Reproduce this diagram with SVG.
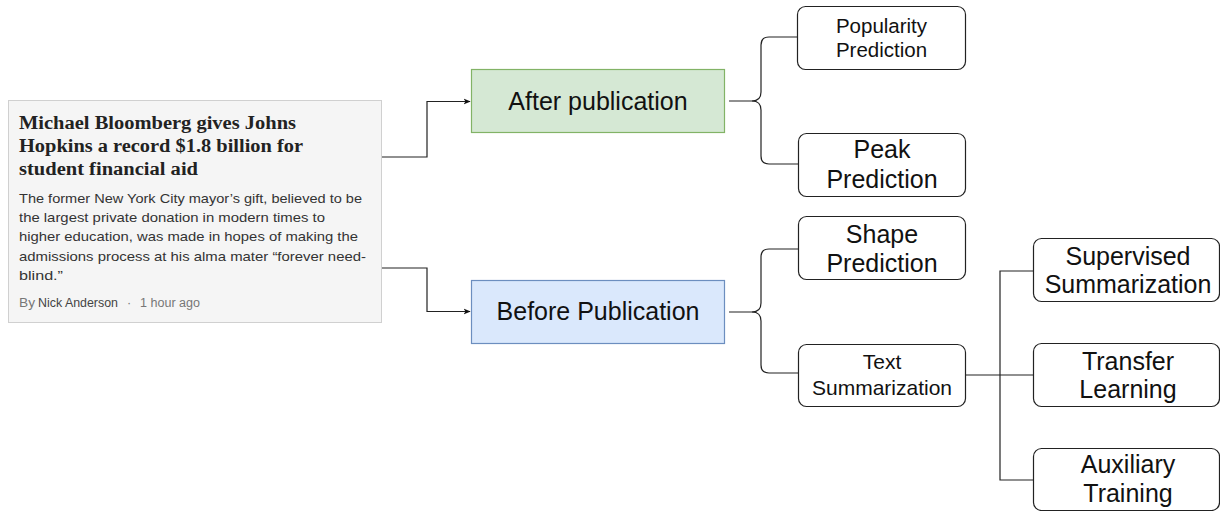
<svg xmlns="http://www.w3.org/2000/svg" width="1220" height="511" viewBox="0 0 1220 511">
<style>
.n{fill:#fff;stroke:#222;stroke-width:1.2}
.t{font-family:"Liberation Sans",Arial,sans-serif;fill:#111;text-anchor:middle}
.c{fill:none;stroke:#222;stroke-width:1.2}
.hl{font-family:"Liberation Serif","Times New Roman",serif;font-weight:bold;font-size:18px;fill:#222}
.bd{font-family:"Liberation Sans",Arial,sans-serif;font-size:13.5px;fill:#333}
.by{font-family:"Liberation Sans",Arial,sans-serif;font-size:12.5px;fill:#777}
</style>
<defs>
<marker id="ah" viewBox="0 0 10 10" refX="9" refY="5" markerWidth="7" markerHeight="7" orient="auto" markerUnits="userSpaceOnUse">
<path d="M0,1 L10,5 L0,9 L2.5,5 Z" fill="#111"/>
</marker>
</defs>
<rect width="1220" height="511" fill="#fff"/>

<g id="article">
<rect x="8.5" y="100.5" width="373" height="222" fill="#f5f5f5" stroke="#d0d0d0"/>
<text class="hl" x="19" y="129" textLength="277" lengthAdjust="spacingAndGlyphs">Michael Bloomberg gives Johns</text>
<text class="hl" x="19" y="152" textLength="284" lengthAdjust="spacingAndGlyphs">Hopkins a record $1.8 billion for</text>
<text class="hl" x="19" y="175" textLength="179" lengthAdjust="spacingAndGlyphs">student financial aid</text>
<text class="bd" x="19" y="203" textLength="343" lengthAdjust="spacingAndGlyphs">The former New York City mayor’s gift, believed to be</text>
<text class="bd" x="19" y="222" textLength="306" lengthAdjust="spacingAndGlyphs">the largest private donation in modern times to</text>
<text class="bd" x="19" y="241" textLength="339" lengthAdjust="spacingAndGlyphs">higher education, was made in hopes of making the</text>
<text class="bd" x="19" y="261" textLength="347" lengthAdjust="spacingAndGlyphs">admissions process at his alma mater “forever need-</text>
<text class="bd" x="19" y="280" textLength="44" lengthAdjust="spacingAndGlyphs">blind.”</text>
<text class="by" x="19" y="307" textLength="16" lengthAdjust="spacingAndGlyphs">By</text>
<text class="by" x="38" y="307" fill="#444" style="fill:#444" textLength="80" lengthAdjust="spacingAndGlyphs">Nick Anderson</text>
<text class="by" x="127" y="307">·</text>
<text class="by" x="140" y="307" textLength="60" lengthAdjust="spacingAndGlyphs">1 hour ago</text>
</g>

<g id="connectors">
<path class="c" d="M382,157 H427 V101.5 H470" marker-end="url(#ah)"/>
<path class="c" d="M382,268 H427 V311.5 H470" marker-end="url(#ah)"/>
<path class="c" d="M729,101 H752 Q761,101 761,92 V45 Q761,37 769,37 H798"/>
<path class="c" d="M752,101 Q761,101 761,110 V156 Q761,164 769,164 H798"/>
<path class="c" d="M729,312 H752 Q761,312 761,303 V257 Q761,249 769,249 H798"/>
<path class="c" d="M752,312 Q761,312 761,321 V365 Q761,373 769,373 H798"/>
<path class="c" d="M966,375 H1000"/>
<path class="c" d="M1033,271 H1000 V480 H1033"/>
<path class="c" d="M1000,375 H1033"/>
</g>

<g id="after">
<rect x="471.5" y="69.5" width="253" height="63" fill="#d5e8d4" stroke="#82b366" stroke-width="1.2"/>
<text class="t" x="598" y="110" font-size="25">After publication</text>
</g>
<g id="before">
<rect x="471.5" y="280.5" width="253" height="63" fill="#dae8fc" stroke="#6c8ebf" stroke-width="1.2"/>
<text class="t" x="598" y="320" font-size="25">Before Publication</text>
</g>

<g id="popularity">
<rect class="n" x="797.5" y="6.5" width="168" height="63" rx="8"/>
<text class="t" x="881.5" y="33" font-size="20.5">Popularity</text>
<text class="t" x="881.5" y="57" font-size="20.5">Prediction</text>
</g>
<g id="peak">
<rect class="n" x="798.5" y="133.5" width="167" height="63" rx="8"/>
<text class="t" x="882" y="158" font-size="25">Peak</text>
<text class="t" x="882" y="188" font-size="25">Prediction</text>
</g>
<g id="shape">
<rect class="n" x="798.5" y="216.5" width="167" height="63" rx="8"/>
<text class="t" x="882" y="243" font-size="25">Shape</text>
<text class="t" x="882" y="272" font-size="25">Prediction</text>
</g>
<g id="textsum">
<rect class="n" x="798.5" y="344.5" width="167" height="62" rx="8"/>
<text class="t" x="882" y="369" font-size="21">Text</text>
<text class="t" x="882" y="395" font-size="21">Summarization</text>
</g>
<g id="supervised">
<rect class="n" x="1033.5" y="238.5" width="186" height="63" rx="8"/>
<text class="t" x="1128" y="265" font-size="25">Supervised</text>
<text class="t" x="1128" y="293" font-size="25">Summarization</text>
</g>
<g id="transfer">
<rect class="n" x="1033.5" y="343.5" width="186" height="63" rx="8"/>
<text class="t" x="1128" y="370" font-size="25">Transfer</text>
<text class="t" x="1128" y="398" font-size="25">Learning</text>
</g>
<g id="auxiliary">
<rect class="n" x="1033.5" y="448.5" width="186" height="62" rx="8"/>
<text class="t" x="1128" y="473" font-size="25">Auxiliary</text>
<text class="t" x="1128" y="502" font-size="25">Training</text>
</g>
</svg>
